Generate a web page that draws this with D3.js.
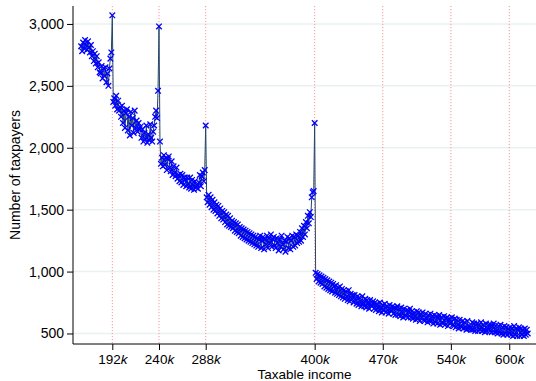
<!DOCTYPE html>
<html>
<head>
<meta charset="utf-8">
<script src="https://cdn.jsdelivr.net/npm/d3@7"></script>
<style>
  body { margin: 0; background: #fff; }
  text { font-family: Helvetica, Arial, "Liberation Sans", sans-serif; fill: #000; }
</style>
</head>
<body>
<div id="chart"></div>
<script>
// bins of taxable income (thousands), 1k wide, first bin at 160k
const startIncome = 160;
const binWidth = 1;

// number of taxpayers per bin, rows of 20 bins (row start in comment)
const taxpayers = [
  2820, 2780, 2850, 2800, 2870, 2830, 2790, 2860, 2810, 2770, 2830, 2740, 2780, 2700, 2760, 2680, 2740, 2650, 2690, 2610, // 160
  2600, 2660, 2560, 2640, 2580, 2650, 2530, 2600, 2500, 2640, 2720, 2770, 3070, 2370, 2400, 2340, 2420, 2310, 2380, 2300, // 180
  2330, 2250, 2340, 2200, 2300, 2160, 2280, 2310, 2140, 2250, 2100, 2290, 2180, 2240, 2120, 2300, 2160, 2220, 2130, 2200, // 200
  2150, 2170, 2080, 2150, 2050, 2120, 2070, 2180, 2040, 2110, 2060, 2190, 2080, 2050, 2130, 2180, 2250, 2300, 2240, 2460, // 220
  2980, 2050, 1870, 1920, 1850, 1940, 1860, 1920, 1820, 1910, 1930, 1840, 1810, 1890, 1780, 1850, 1800, 1770, 1840, 1750, // 240
  1780, 1730, 1790, 1720, 1780, 1700, 1760, 1740, 1690, 1760, 1710, 1680, 1760, 1670, 1740, 1700, 1660, 1730, 1680, 1700, // 260
  1670, 1720, 1780, 1690, 1770, 1800, 1730, 1820, 2180, 1600, 1560, 1620, 1540, 1600, 1520, 1580, 1500, 1560, 1490, 1540, // 280
  1470, 1530, 1450, 1510, 1430, 1490, 1420, 1480, 1400, 1460, 1380, 1450, 1370, 1430, 1360, 1410, 1350, 1400, 1330, 1390, // 300
  1320, 1380, 1310, 1360, 1290, 1350, 1280, 1340, 1270, 1330, 1260, 1320, 1250, 1310, 1240, 1300, 1230, 1290, 1220, 1280, // 320
  1210, 1270, 1200, 1260, 1290, 1190, 1250, 1280, 1180, 1260, 1220, 1290, 1190, 1270, 1230, 1300, 1200, 1260, 1280, 1210, // 340
  1190, 1270, 1230, 1170, 1260, 1200, 1290, 1220, 1180, 1250, 1160, 1240, 1280, 1190, 1270, 1180, 1250, 1290, 1200, 1280, // 360
  1210, 1300, 1230, 1290, 1240, 1320, 1250, 1350, 1280, 1370, 1300, 1400, 1350, 1450, 1390, 1480, 1440, 1600, 1640, 1650, // 380
  2200, 990, 940, 980, 920, 970, 910, 960, 900, 950, 880, 940, 870, 930, 860, 920, 850, 910, 840, 900, // 400
  880, 830, 890, 820, 870, 810, 880, 800, 860, 790, 850, 780, 840, 800, 770, 850, 760, 820, 780, 810,  // 420
  750, 810, 770, 740, 800, 730, 790, 760, 720, 800, 750, 720, 780, 710, 770, 740, 700, 770, 730, 720,  // 440
  760, 700, 750, 690, 740, 710, 680, 750, 700, 670, 730, 690, 740, 670, 720, 690, 660, 730, 690, 680,  // 460
  720, 660, 710, 650, 700, 720, 650, 700, 640, 710, 670, 630, 700, 650, 640, 690, 630, 680, 700, 630,  // 480
  680, 620, 670, 640, 610, 680, 620, 670, 600, 660, 630, 670, 610, 600, 660, 620, 590, 650, 600, 660,  // 500
  600, 640, 580, 650, 590, 640, 580, 630, 650, 570, 630, 590, 580, 640, 570, 620, 630, 560, 620, 580,  // 520
  590, 630, 570, 560, 620, 550, 610, 570, 540, 610, 560, 550, 600, 540, 590, 550, 530, 600, 540, 560,  // 540
  540, 530, 590, 530, 580, 520, 570, 580, 520, 570, 530, 590, 520, 570, 530, 510, 580, 520, 540, 570,  // 560
  520, 570, 510, 560, 580, 510, 560, 520, 500, 560, 510, 570, 500, 550, 490, 560, 500, 550, 490, 540,  // 580
  500, 550, 490, 540, 480, 560, 490, 540, 480, 530, 550, 480, 540, 490, 530, 480, 540, 490, 530, 500   // 600
];

const xTicks = [192, 240, 288, 400, 470, 540, 600];
const yTicks = [500, 1000, 1500, 2000, 2500, 3000];

const width = 536;
const height = 381;
const margin = { top: 6, right: 0, bottom: 37, left: 73 };

const data = taxpayers.map((n, i) => ({ income: startIncome + i * binWidth, n: n }));

const svg = d3.select("#chart")
  .append("svg")
  .attr("width", width)
  .attr("height", height);

const xScale = d3.scaleLinear([151.6, 627.5], [margin.left, width - margin.right]);
const yScale = d3.scaleLinear([415, 3145], [height - margin.bottom, margin.top]);

// horizontal grid
svg.append("g")
  .selectAll("line")
  .data(yTicks)
  .enter().append("line")
  .attr("x1", margin.left)
  .attr("x2", width - margin.right)
  .attr("y1", d => yScale(d))
  .attr("y2", d => yScale(d))
  .attr("stroke", "#eaf1f3")
  .attr("stroke-width", 1.5);

// red dotted reference lines at the tick positions
svg.append("g")
  .selectAll("line")
  .data(xTicks)
  .enter().append("line")
  .attr("x1", d => xScale(d))
  .attr("x2", d => xScale(d))
  .attr("y1", margin.top)
  .attr("y2", height - margin.bottom)
  .attr("stroke", "#f59a9a")
  .attr("stroke-width", 1)
  .attr("stroke-dasharray", "1.2,1.8");

// connecting line
const line = d3.line()
  .x(d => xScale(d.income))
  .y(d => yScale(d.n));

svg.append("path")
  .datum(data)
  .attr("d", line)
  .attr("fill", "none")
  .attr("stroke", "#23476a")
  .attr("stroke-width", 1);

// x markers
const s = 2.8;
svg.append("g")
  .selectAll("path")
  .data(data)
  .enter().append("path")
  .attr("d", d => {
    const cx = xScale(d.income), cy = yScale(d.n);
    return `M${cx - s},${cy - s}L${cx + s},${cy + s}M${cx - s},${cy + s}L${cx + s},${cy - s}`;
  })
  .attr("stroke", "#0000ff")
  .attr("stroke-width", 1.3)
  .attr("fill", "none");

// y axis
const yAxis = d3.axisLeft(yScale)
  .tickValues(yTicks)
  .tickSize(6)
  .tickPadding(3)
  .tickFormat(d3.format(","));

const gY = svg.append("g")
  .attr("transform", `translate(${margin.left}, 0)`)
  .call(yAxis);
gY.select(".domain").attr("d", `M0,${margin.top}V${height - margin.bottom}`);
gY.selectAll("text").style("font-size", "14px").attr("fill", "#000");

// x axis
const xAxis = d3.axisBottom(xScale)
  .tickValues(xTicks)
  .tickSize(6)
  .tickFormat("");

const gX = svg.append("g")
  .attr("transform", `translate(0, ${height - margin.bottom})`)
  .call(xAxis);
gX.select(".domain").attr("d", `M${margin.left},0H${width - margin.right}`);

gX.selectAll(".tick")
  .append("text")
  .attr("y", 19.5)
  .attr("text-anchor", "middle")
  .style("font-size", "13.5px")
  .attr("fill", "#000")
  .html(d => `${d}<tspan font-style="italic">k</tspan>`);

svg.selectAll(".domain, .tick line").attr("stroke", "#000");

// axis titles
svg.append("text")
  .attr("x", (margin.left + width - margin.right) / 2)
  .attr("y", 379)
  .attr("text-anchor", "middle")
  .style("font-size", "13.5px")
  .text("Taxable income");

svg.append("text")
  .attr("transform", `translate(20, ${(margin.top + height - margin.bottom) / 2}) rotate(-90)`)
  .attr("text-anchor", "middle")
  .style("font-size", "14px")
  .text("Number of taxpayers");
</script>
</body>
</html>
